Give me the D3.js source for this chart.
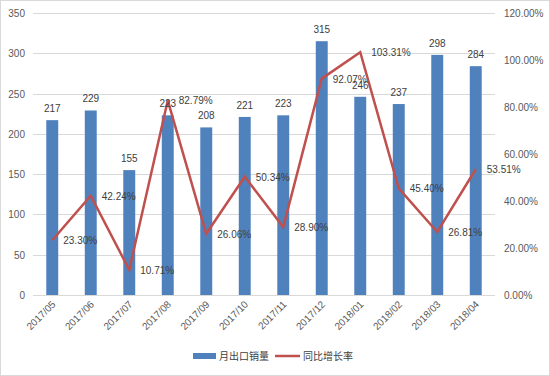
<!DOCTYPE html>
<html>
<head>
<meta charset="utf-8">
<script src="https://cdn.jsdelivr.net/npm/d3@7"></script>
<style>
  body { margin: 0; background: #fff; }
  text { font-family: "Liberation Sans", "Noto Sans CJK SC", sans-serif; fill: #404040; }
</style>
</head>
<body>
<div id="chart"></div>
<script>
const months = ['2017/05', '2017/06', '2017/07', '2017/08', '2017/09', '2017/10',
  '2017/11', '2017/12', '2018/01', '2018/02', '2018/03', '2018/04'];
const exports = [217, 229, 155, 223, 208, 221, 223, 315, 246, 237, 298, 284];
const growth = [23.30, 42.24, 10.71, 82.79, 26.06, 50.34, 28.90, 92.07, 103.31, 45.40, 26.81, 53.51];
const leftTicks = [0, 50, 100, 150, 200, 250, 300, 350];
const rightTicks = [0, 20, 40, 60, 80, 100, 120];

const width = 550;
const height = 376;
const margin = { top: 13, right: 55, bottom: 81, left: 33 };
const barColor = '#4F81BD';
const lineColor = '#C0504D';

const svg = d3.select('#chart')
  .append('svg')
  .attr('width', width)
  .attr('height', height);

// frame
svg.append('rect')
  .attr('x', 0.5).attr('y', 0.5)
  .attr('width', width - 1).attr('height', height - 1)
  .attr('fill', '#fff')
  .attr('stroke', '#d9d9d9');

const x = d3.scaleBand()
  .domain(months)
  .range([margin.left, width - margin.right])
  .paddingInner(0.69)
  .paddingOuter(0.345);

const y = d3.scaleLinear().domain([0, 350]).range([height - margin.bottom, margin.top]);
const y2 = d3.scaleLinear().domain([0, 120]).range([height - margin.bottom, margin.top]);

// gridlines
svg.append('g')
  .selectAll('line')
  .data(leftTicks)
  .enter()
  .append('line')
  .attr('x1', margin.left)
  .attr('x2', width - margin.right)
  .attr('y1', (d) => Math.round(y(d)) + 0.5)
  .attr('y2', (d) => Math.round(y(d)) + 0.5)
  .attr('stroke', '#d9d9d9');

// left axis labels
svg.append('g')
  .selectAll('text')
  .data(leftTicks)
  .enter()
  .append('text')
  .attr('x', 25)
  .attr('y', (d) => y(d) + 4)
  .attr('text-anchor', 'end')
  .style('font-size', '10px')
  .style('fill', '#595959')
  .text((d) => d);

// right axis labels
svg.append('g')
  .selectAll('text')
  .data(rightTicks)
  .enter()
  .append('text')
  .attr('x', 504)
  .attr('y', (d) => y2(d) + 4)
  .style('font-size', '10px')
  .style('fill', '#595959')
  .text((d) => d.toFixed(2) + '%');

// bars
svg.append('g')
  .selectAll('rect')
  .data(exports)
  .enter()
  .append('rect')
  .attr('x', (d, i) => x(months[i]))
  .attr('y', (d) => y(d))
  .attr('width', x.bandwidth())
  .attr('height', (d) => y(0) - y(d))
  .attr('fill', barColor);

// category labels
svg.append('g')
  .selectAll('text')
  .data(months)
  .enter()
  .append('text')
  .attr('transform', (d) => `translate(${x(d) + x.bandwidth() / 2 + 4},${y(0) + 10}) rotate(-45)`)
  .attr('text-anchor', 'end')
  .style('font-size', '10px')
  .style('fill', '#595959')
  .text((d) => d);

// line
const line = d3.line()
  .x((d, i) => x(months[i]) + x.bandwidth() / 2)
  .y((d) => y2(d));

svg.append('path')
  .datum(growth)
  .attr('d', line)
  .attr('fill', 'none')
  .attr('stroke', lineColor)
  .attr('stroke-width', 2.5)
  .attr('stroke-linejoin', 'miter');

// bar value labels
svg.append('g')
  .selectAll('text')
  .data(exports)
  .enter()
  .append('text')
  .attr('x', (d, i) => x(months[i]) + x.bandwidth() / 2)
  .attr('y', (d) => y(d) - 8)
  .attr('text-anchor', 'middle')
  .style('font-size', '10px')
  .text((d) => d);

// line value labels
svg.append('g')
  .selectAll('text')
  .data(growth)
  .enter()
  .append('text')
  .attr('x', (d, i) => x(months[i]) + x.bandwidth() / 2 + 11)
  .attr('y', (d) => y2(d) + 4)
  .style('font-size', '10px')
  .text((d) => d.toFixed(2) + '%');

// legend
const legend = svg.append('g');
legend.append('rect')
  .attr('x', 193).attr('y', 353)
  .attr('width', 23).attr('height', 6)
  .attr('fill', barColor);
legend.append('text')
  .attr('x', 219).attr('y', 360)
  .style('font-size', '10px')
  .text('月出口销量');
legend.append('line')
  .attr('x1', 275).attr('x2', 300)
  .attr('y1', 356).attr('y2', 356)
  .attr('stroke', lineColor)
  .attr('stroke-width', 2.5);
legend.append('text')
  .attr('x', 303).attr('y', 360)
  .style('font-size', '10px')
  .text('同比增长率');
</script>
</body>
</html>
